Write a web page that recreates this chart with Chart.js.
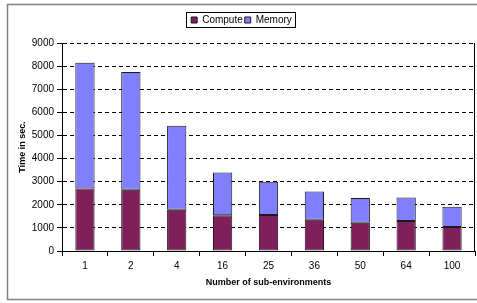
<!DOCTYPE html>
<html>
<head>
<meta charset="utf-8">
<script src="https://cdn.jsdelivr.net/npm/chart.js@4.4.1/dist/chart.umd.min.js"></script>
<style>
  body { margin: 0; background: #fff; }
  #wrap { width: 477px; height: 303px; }
</style>
</head>
<body>
<div id="wrap"><canvas id="myChart" width="477" height="303"></canvas></div>
<script>
const CATEGORIES = ['1', '2', '4', '16', '25', '36', '50', '64', '100']
const COMPUTE = [2700, 2650, 1780, 1550, 1560, 1350, 1220, 1300, 1040]
const MEMORY = [5450, 5100, 3640, 1850, 1440, 1220, 1070, 1020, 880]
const Y_TICKS = [0, 1000, 2000, 3000, 4000, 5000, 6000, 7000, 8000, 9000]

const FONT = 'Liberation Sans, Arial, sans-serif'

// outer frame, right edge of the plot and the box round the legend
const framePlugin = {
  id: 'frame',
  beforeInit(chart) {
    const fit = chart.legend.fit
    chart.legend.fit = function () {
      fit.bind(chart.legend)()
      this.height = 30
    }
  },
  afterDraw(chart) {
    const ctx = chart.ctx
    const area = chart.chartArea
    ctx.save()
    ctx.setLineDash([])
    ctx.strokeStyle = '#808080'
    ctx.lineWidth = 1.5
    ctx.strokeRect(7.5, 4.5, 475, 295)

    ctx.strokeStyle = '#000'
    ctx.lineWidth = 1
    ctx.beginPath()
    ctx.moveTo(Math.round(area.right) - 0.5, area.top)
    ctx.lineTo(Math.round(area.right) - 0.5, area.bottom)
    ctx.stroke()

    const boxes = chart.legend.legendHitBoxes
    if (boxes && boxes.length) {
      const first = boxes[0]
      const last = boxes[boxes.length - 1]
      const x0 = Math.round(first.left) - 4.5
      const x1 = Math.round(last.left + last.width) + 3.5
      const y0 = Math.round(first.top) - 2.5
      const y1 = Math.round(first.top + first.height) + 2.5
      ctx.strokeRect(x0, y0, x1 - x0, y1 - y0)
    }
    ctx.restore()
  }
}

function drawChart() {
  const ctx = document.getElementById('myChart')
  new Chart(ctx, {
    type: 'bar',
    data: {
      labels: CATEGORIES,
      datasets: [
        {
          label: 'Compute',
          data: COMPUTE,
          backgroundColor: '#7f1f5c',
          borderColor: '#1a1a1a',
          borderWidth: 1
        },
        {
          label: 'Memory',
          data: MEMORY,
          backgroundColor: '#8080ff',
          borderColor: '#1a1a1a',
          borderWidth: 1
        }
      ]
    },
    plugins: [framePlugin],
    options: {
      responsive: false,
      animation: false,
      devicePixelRatio: 1,
      layout: { padding: { left: 8, right: 2, top: 13, bottom: 10 } },
      datasets: {
        bar: { categoryPercentage: 1, barPercentage: 0.42, borderSkipped: false }
      },
      plugins: {
        tooltip: { enabled: false },
        legend: {
          position: 'top',
          labels: {
            boxWidth: 6,
            boxHeight: 6,
            padding: 2,
            color: '#000',
            font: { family: FONT, size: 10 }
          }
        }
      },
      scales: {
        x: {
          stacked: true,
          grid: {
            offset: true,
            drawOnChartArea: false,
            drawTicks: true,
            tickLength: 5,
            color: '#000'
          },
          border: { display: true, color: '#000', width: 1 },
          ticks: {
            color: '#000',
            padding: 4,
            maxRotation: 0,
            font: { family: FONT, size: 10 }
          },
          title: {
            display: true,
            text: 'Number of sub-environments',
            color: '#000',
            padding: { top: 0, bottom: 5 },
            font: { family: FONT, size: 9, weight: 'bold' }
          },
          afterFit(scale) { scale.height = 42 }
        },
        y: {
          stacked: true,
          min: 0,
          max: 9000,
          afterBuildTicks(scale) {
            scale.ticks = Y_TICKS.map(v => ({ value: v }))
          },
          grid: {
            color: '#000',
            lineWidth: 1,
            tickBorderDash: [],
            tickLength: 5
          },
          border: { display: true, color: '#000', width: 1, dash: [4, 3] },
          ticks: {
            color: '#000',
            padding: 3,
            font: { family: FONT, size: 10 },
            callback: v => String(v)
          },
          title: {
            display: true,
            text: 'Time in sec.',
            color: '#000',
            padding: { top: 9, bottom: 0 },
            font: { family: FONT, size: 9, weight: 'bold' }
          },
          afterFit(scale) { scale.width = 54 }
        }
      }
    }
  })
}

drawChart()
</script>
</body>
</html>
